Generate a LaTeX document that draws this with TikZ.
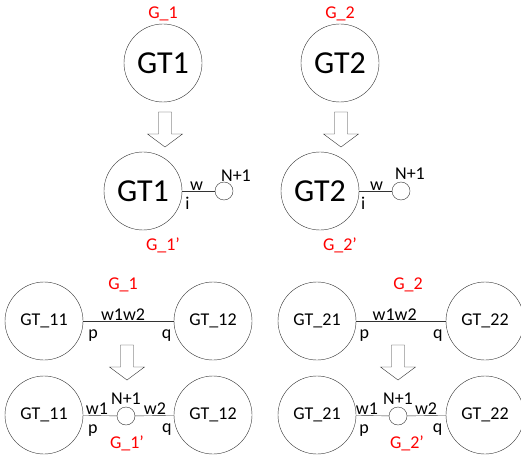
\documentclass[tikz,border=0pt]{standalone}
\usepackage{fontspec}
\setmainfont{Carlito}
\usetikzlibrary{positioning}

% hollow block arrow pointing down, #1 = top middle
\newcommand{\blockdown}[1]{%
  \draw[black!80, fill=white, line join=miter] (#1) ++(-6.5,0) -- ++(13,0) -- ++(0,22)
    -- ++(11,0) -- ++(-17.5,13) -- ++(-17.5,-13) -- ++(11,0) -- cycle;}

\begin{document}
\begin{tikzpicture}[
    x=1pt, y=-1pt,
    font=\fontsize{18}{20}\selectfont,
    big/.style={circle, draw=black!80, minimum size=78pt, inner sep=0pt},
    huge/.style={big, font=\fontsize{32}{34}\selectfont},
    port/.style={circle, draw=black!80, minimum size=18pt, inner sep=0pt},
    glabel/.style={text=red},
    wire/.style={draw=black!80},
    lbl/.style={inner sep=0.5pt}
]
\useasboundingbox (0,0) rectangle (521,462);

% top left: G_1 -> G_1'
\node[glabel] (g1) at (163,14) {G\_1};
\node[huge] (gt1) at (163,63) {GT1};
\coordinate (a1) at (165,112);
\blockdown{a1}
\node[huge] (gt1b) at (143,191) {GT1};
\node[port] (n1) at (224,191) {};
\node (n1lbl) at (236,176) {N+1};
\draw[wire] (gt1b) -- node[pos=.44, above, lbl]{w} node[pos=.16, below=5pt, lbl]{i} (n1);
\node[glabel] (g1b) at (163,245) {G\_1'};

% top right: G_2 -> G_2'
\node[glabel] (g2) at (340,14) {G\_2};
\node[huge] (gt2) at (340,63) {GT2};
\coordinate (a2) at (341,112);
\blockdown{a2}
\node[huge] (gt2b) at (320,191) {GT2};
\node[port] (n2) at (401,191) {};
\node (n2lbl) at (410,174) {N+1};
\draw[wire] (gt2b) -- node[pos=.53, above, lbl]{w} node[pos=.12, below=5pt, lbl]{i} (n2);
\node[glabel] (g2b) at (340,245) {G\_2'};

% bottom left: split edge of G_1
\node[glabel] (h1) at (123,285) {G\_1};
\node[big] (gt11) at (44,321) {GT\_11};
\node[big] (gt12) at (213,321) {GT\_12};
\draw[wire] (gt11) -- node[pos=.44, above, lbl]{w1w2} node[pos=.11, below=8pt, lbl]{p}
  node[pos=.92, below=8pt, lbl]{q} (gt12);
\coordinate (a3) at (127,345);
\blockdown{a3}
\node[big] (gt11b) at (44,415) {GT\_11};
\node[big] (gt12b) at (213,415) {GT\_12};
\node[port] (n11) at (126,416) {};
\node[above=-1pt of n11] (n11lbl) {N+1};
\draw[wire] (gt11b) -- node[pos=.41, above, lbl]{w1} node[pos=.29, below=8pt, lbl]{p} (n11);
\draw[wire] (n11) -- node[pos=.51, above, lbl]{w2} node[pos=.82, below=8pt, lbl]{q} (gt12b);
\node[glabel] (h1b) at (127,443) {G\_1'};

% bottom right: split edge of G_2
\node[glabel] (h2) at (408,285) {G\_2};
\node[big] (gt21) at (317,321) {GT\_21};
\node[big] (gt22) at (485,321) {GT\_22};
\draw[wire] (gt21) -- node[pos=.43, above, lbl]{w1w2} node[pos=.09, below=8pt, lbl]{p}
  node[pos=.91, below=8pt, lbl]{q} (gt22);
\coordinate (a4) at (398,345);
\blockdown{a4}
\node[big] (gt21b) at (317,415) {GT\_21};
\node[big] (gt22b) at (485,415) {GT\_22};
\node[port] (n21) at (398,416) {};
\node[above=-1pt of n21] (n21lbl) {N+1};
\draw[wire] (gt21b) -- node[pos=.33, above, lbl]{w1} node[pos=.24, below=8pt, lbl]{p} (n21);
\draw[wire] (n21) -- node[pos=.49, above, lbl]{w2} node[pos=.79, below=8pt, lbl]{q} (gt22b);
\node[glabel] (h2b) at (407,443) {G\_2'};
\end{tikzpicture}
\end{document}
